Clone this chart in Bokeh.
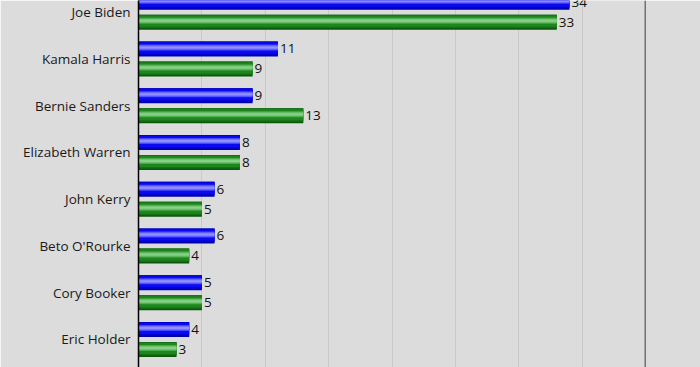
from bokeh.plotting import figure
from bokeh.models import Range1d, FixedTicker, Grid, Span, ColumnDataSource
from bokeh.core.properties import value
from bokeh.embed import file_html
from bokeh.resources import INLINE

categories = ["Joe Biden", "Kamala Harris", "Bernie Sanders", "Elizabeth Warren",
              "John Kerry", "Beto O'Rourke", "Cory Booker", "Eric Holder"]
blue_values = [34, 11, 9, 8, 6, 6, 5, 4]
green_values = [33, 9, 13, 8, 5, 4, 5, 3]
x_ticks = [0, 5, 10, 15, 20, 25, 30, 35, 40]

BG = "#dcdcdc"
FONT = "Open Sans"
PX = 46.75  # pixels per category unit

p = figure(width=700, height=367, output_backend="svg", toolbar_location=None,
           x_range=Range1d(0, 40), y_range=Range1d(-7.599, 0.250),
           x_axis_location=None, min_border_left=138, min_border_right=55,
           min_border_top=0, min_border_bottom=0)
p.background_fill_color = BG
p.border_fill_color = BG
p.outline_line_color = None
p.ygrid.visible = False

grid = Grid(dimension=0, ticker=FixedTicker(ticks=x_ticks),
            grid_line_color="#c9c9c9", grid_line_width=1)
p.add_layout(grid)

ypos = [-i for i in range(len(categories))]
yax = p.yaxis[0]
yax.ticker = FixedTicker(ticks=ypos)
yax.major_label_overrides = {y: c for y, c in zip(ypos, categories)}
yax.major_tick_line_color = None
yax.minor_tick_line_color = None
yax.major_tick_out = 0
yax.major_tick_in = 0
yax.axis_line_color = "black"
yax.axis_line_width = 1.5
yax.major_label_standoff = 8
yax.major_label_text_font = FONT
yax.major_label_text_font_size = "13.5px"
yax.major_label_text_color = "#1a1a1a"

bar_h = 15.0  # px
off = 10 / PX

# nested layers: (top px, bottom px, colour) measured from the bar's top edge
blue_layers = [(0, 15, "#0000a8"), (0, 13.5, "#0000d0"), (1, 12, "#0a0af0"),
               (3, 9, "#4848ff"), (4, 8, "#7070ff"), (5, 7, "#9090ff")]
green_layers = [(0, 15, "#0a560a"), (0, 13.5, "#137013"), (1, 12, "#1f861f"),
                (3, 9, "#4aaa4a"), (4, 8, "#6cc06c"), (5, 7, "#88d088")]

for vals, layers, sign in [(blue_values, blue_layers, 1), (green_values, green_layers, -1)]:
    centers = [y + sign * off for y in ypos]
    for top, bot, col in layers:
        mid = (top + bot) / 2 - bar_h / 2  # px below bar centre
        ys = [c - mid / PX for c in centers]
        p.hbar(y=ys, right=vals, left=0, height=(bot - top) / PX, fill_color=col,
               line_color=None)
    src = ColumnDataSource(dict(x=vals, y=centers, t=[str(v) for v in vals]))
    p.text(x="x", y="y", text="t", source=src, x_offset=2, text_baseline="middle",
           text_align="left", text_font=value(FONT), text_font_size="13.5px",
           text_color="#111111")

p.add_layout(Span(location=40, dimension="height", line_color="black", line_width=1.5))

open("out.html", "w").write(file_html(p, INLINE))
